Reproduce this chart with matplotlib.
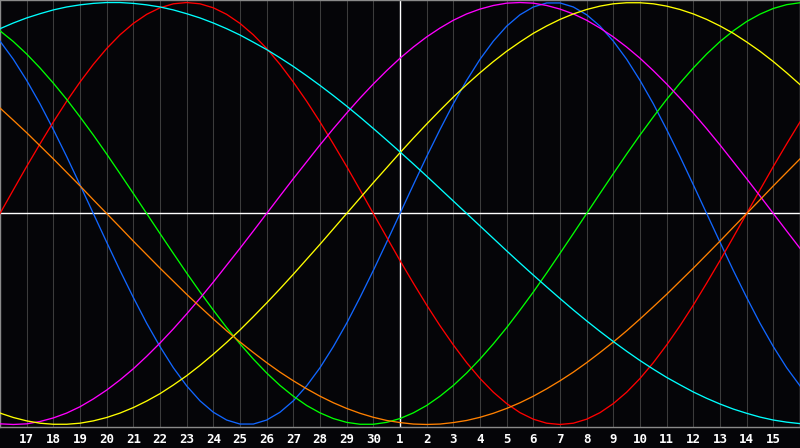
import matplotlib
matplotlib.use("Agg")
import matplotlib.pyplot as plt

# Day index 0..30 (left edge = the 16th of the previous month); values in thousandths
days = list(range(31))
mid_days = [d + 0.5 for d in range(30)]
day_labels = [str(d) for d in list(range(17, 31)) + list(range(1, 16))]
label_days = list(range(1, 30))
today_index = 15

physical_day = [817, 631, 398, 136, -136, -398, -631, -817, -942, -998, -979, -888, -731, -520, -270, 0,
                270, 520, 731, 888, 979, 998, 942, 817, 631, 398, 136, -136, -398, -631, -817]
physical_mid = [731, 520, 270, 0, -270, -520, -731, -888, -979, -998, -942, -817, -631, -398, -136,
                136, 398, 631, 817, 942, 998, 979, 888, 731, 520, 270, 0, -270, -520, -731]

emotional_day = [0, 223, 434, 623, 782, 901, 975, 1000, 975, 901, 782, 623, 434, 223, 0, -223,
                 -434, -623, -782, -901, -975, -1000, -975, -901, -782, -623, -434, -223, 0, 223, 434]
emotional_mid = [112, 330, 532, 707, 847, 944, 994, 994, 944, 847, 707, 532, 330, 112, -112,
                 -330, -532, -707, -847, -944, -994, -994, -944, -847, -707, -532, -330, -112, 112, 330]

intellectual_day = [866, 756, 618, 458, 282, 95, -95, -282, -458, -618, -756, -866, -945, -990, -999, -972,
                    -910, -815, -690, -541, -372, -189, 0, 189, 372, 541, 690, 815, 910, 972, 999]
intellectual_mid = [815, 690, 541, 372, 189, 0, -189, -372, -541, -690, -815, -910, -972, -999, -990,
                    -945, -866, -756, -618, -458, -282, -95, 95, 282, 458, 618, 756, 866, 945, 990]

intuitive_day = [-997, -997, -969, -916, -837, -736, -614, -476, -325, -165, 0, 165, 325, 476, 614, 736,
                 837, 916, 969, 997, 997, 969, 916, 837, 736, 614, 476, 325, 165, 0, -165]
intuitive_mid = [-1000, -986, -946, -879, -789, -677, -547, -402, -245, -83, 83, 245, 402, 547, 677,
                 789, 879, 946, 986, 1000, 986, 946, 879, 789, 677, 547, 402, 245, 83, -83]

aesthetic_day = [-946, -983, -999, -994, -967, -920, -854, -769, -667, -552, -424, -288, -146, 0, 146, 288,
                 424, 552, 667, 769, 854, 920, 967, 994, 999, 983, 946, 889, 813, 720, 611]
aesthetic_mid = [-967, -994, -999, -983, -946, -889, -813, -720, -611, -489, -357, -217, -73, 73, 217,
                 357, 489, 611, 720, 813, 889, 946, 983, 999, 994, 967, 920, 854, 769, 667]

awareness_day = [500, 383, 259, 131, 0, -131, -259, -383, -500, -609, -707, -793, -866, -924, -966, -991,
                 -1000, -991, -966, -924, -866, -793, -707, -609, -500, -383, -259, -131, 0, 131, 259]
awareness_mid = [442, 321, 195, 65, -65, -195, -321, -442, -556, -659, -752, -831, -897, -947, -981,
                 -998, -998, -981, -947, -897, -831, -752, -659, -556, -442, -321, -195, -65, 65, 195]

spiritual_day = [876, 927, 965, 989, 1000, 996, 979, 947, 903, 846, 777, 697, 607, 509, 403, 292,
                 177, 59, -59, -177, -292, -403, -509, -607, -697, -777, -846, -903, -947, -979, -996]
spiritual_mid = [903, 947, 979, 996, 1000, 989, 965, 927, 876, 812, 738, 653, 559, 457, 348,
                 235, 118, 0, -118, -235, -348, -457, -559, -653, -738, -812, -876, -927, -965, -989]

series = [(physical_day, physical_mid), (emotional_day, emotional_mid),
          (intellectual_day, intellectual_mid), (intuitive_day, intuitive_mid),
          (aesthetic_day, aesthetic_mid), (awareness_day, awareness_mid),
          (spiritual_day, spiritual_mid)]
colors = ["#1166ff", "#ff0000", "#00ff00", "#ff00ff", "#ffff00", "#ff8000", "#00ffff"]


def merge(day_vals, mid_vals):
    xs, ys = [], []
    for i in range(len(day_vals)):
        xs.append(days[i])
        ys.append(day_vals[i] / 1000)
        if i < len(mid_vals):
            xs.append(mid_days[i])
            ys.append(mid_vals[i] / 1000)
    return xs, ys


bg = "#050508"
fig = plt.figure(figsize=(8, 4.48), dpi=100, facecolor=bg)
ax = fig.add_axes([0, 21 / 448, 1, 427 / 448])
ax.set_facecolor(bg)

# vertical day grid
ax.vlines(days, -1.1, 1.1, colors="#3c3c3c", lw=0.75, zorder=1)

# crosshair at today
ax.axhline(0, color="white", lw=1.0, zorder=2)
ax.axvline(today_index, color="white", lw=1.0, zorder=2)

for (dv, mv), c in zip(series, colors):
    xs, ys = merge(dv, mv)
    ax.plot(xs, ys, color=c, lw=0.95, zorder=3, solid_joinstyle="round")

ax.set_xlim(0, 30)
ax.set_ylim(-1.012, 1.012)
ax.set_yticks([])
ax.set_xticks(label_days)
ax.set_xticklabels(day_labels, family="DejaVu Sans Mono", fontweight="bold",
                   fontsize=9, color="white")
ax.tick_params(axis="x", length=0, pad=4.2)
for s in ax.spines.values():
    s.set_color("#8a8a8a")
    s.set_linewidth(1.0)

fig.savefig("out.png", facecolor=bg)
